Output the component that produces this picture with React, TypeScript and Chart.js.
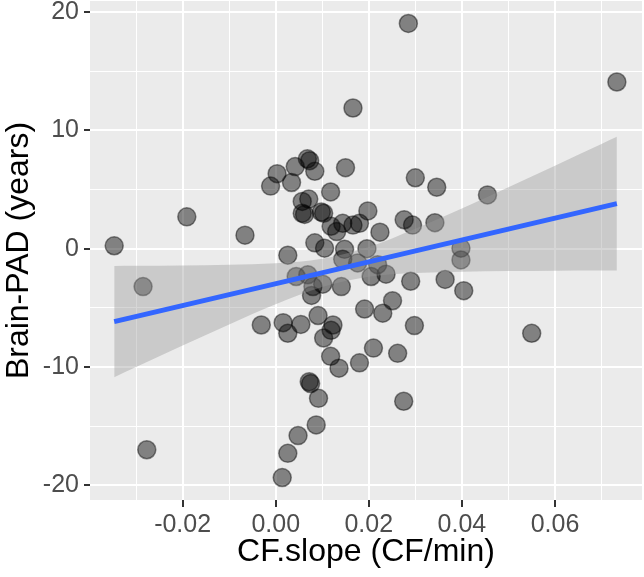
import { useEffect, useRef } from 'react';
import { Chart, registerables } from 'chart.js';

Chart.register(...registerables);

// CF.slope (CF/min) per subject
const slopeX = [
  -0.0347, -0.0285, -0.0277, -0.0191, -0.0066,
  -0.0011, 0.0003, 0.0034, 0.0042, 0.0068, 0.0073, 0.0084, 0.0150, 0.0166,
  0.0118, 0.0057, 0.0071, 0.0057, 0.0062, 0.0098, 0.0103, 0.0119, 0.0131,
  0.0144, 0.0166, 0.0180, 0.0198, 0.0224, 0.0276, 0.0294, 0.0342, 0.0300,
  0.0346, 0.0455, 0.0285, 0.0733,
  0.0084, 0.0105, 0.0148, 0.0196, 0.0026, 0.0144, 0.0176, 0.0219, 0.0398, 0.0398,
  0.0044, 0.0069, 0.0080, 0.0077, 0.0101, 0.0141, 0.0205, 0.0237, 0.0290,
  0.0364, 0.0404, 0.0251,
  -0.0031, 0.0016, 0.0026, 0.0054, 0.0091, 0.0123, 0.0119, 0.0103, 0.0118,
  0.0136, 0.0180, 0.0210, 0.0262, 0.0191, 0.0230, 0.0298, 0.0550,
  0.0072, 0.0075, 0.0092, 0.0087, 0.0048, 0.0026, 0.0014, 0.0275,
];

// Brain-PAD (years) per subject
const brainPad = [
  0.25, -3.2, -17.0, 2.7, 1.15,
  5.3, 6.35, 5.6, 6.95, 7.6, 7.45, 6.55, 6.85, 11.9,
  4.8, 4.0, 4.2, 3.0, 2.9, 3.1, 3.0, 1.9, 1.45,
  2.15, 2.0, 2.15, 3.2, 1.4, 2.45, 2.0, 2.2, 6.0,
  5.2, 4.55, 19.05, 14.1,
  0.5, 0.05, -0.05, 0.0, -0.55, -0.9, -1.2, -1.35, 0.05, -0.95,
  -2.35, -2.2, -3.2, -3.95, -3.0, -3.2, -2.35, -2.15, -2.75,
  -2.6, -3.55, -4.4,
  -6.45, -6.25, -7.15, -6.4, -5.65, -6.45, -6.9, -7.55, -9.1,
  -10.1, -9.65, -8.4, -8.85, -5.1, -5.45, -6.5, -7.15,
  -11.25, -11.4, -12.65, -14.9, -15.8, -17.3, -19.35, -12.9,
];

// linear fit (as drawn)
const fitX = [-0.0347, 0.0733];
const fitY = [-6.16, 3.81];

// 95% confidence band (as drawn)
const bandX = [-0.0347, -0.03, -0.02, -0.01, 0.0, 0.01, 0.02, 0.03, 0.04, 0.05, 0.06, 0.07, 0.0733];
const bandHigh = [-1.46, -1.45, -1.42, -1.36, -1.23, -0.85, 0.14, 1.68, 3.4, 5.19, 7.02, 8.85, 9.46];
const bandLow = [-10.86, -10.01, -8.18, -6.4, -4.69, -3.23, -2.36, -2.06, -1.94, -1.89, -1.86, -1.85, -1.84];

// axis breaks
const xMajor = [-0.02, 0.0, 0.02, 0.04, 0.06];
const xMinor = [-0.03, -0.01, 0.01, 0.03, 0.05, 0.07];
const yMajor = [-20, -10, 0, 10, 20];
const yMinor = [-15, -5, 5, 15];

const X_MIN = -0.0399;
const X_MAX = 0.0787;
const Y_MIN = -21.25;
const Y_MAX = 20.95;

const FONT = "'Liberation Sans', Arial, Helvetica, sans-serif";

const isIn = (arr: number[], v: number) => arr.some((a) => Math.abs(a - v) < 1e-9);

const panelBg = {
  id: 'panelBg',
  beforeDraw(chart: any) {
    const { ctx, chartArea } = chart;
    ctx.save();
    ctx.fillStyle = '#EBEBEB';
    ctx.fillRect(chartArea.left, chartArea.top, chartArea.right - chartArea.left, chartArea.bottom - chartArea.top);
    ctx.restore();
  },
};

export default function App() {
  const ref = useRef<HTMLCanvasElement | null>(null);

  useEffect(() => {
    if (!ref.current) return;
    const points = slopeX.map((x, i) => ({ x, y: brainPad[i] }));
    const chart = new Chart(ref.current, {
      type: 'scatter',
      data: {
        datasets: [
          {
            type: 'scatter',
            data: points,
            pointRadius: 9,
            pointHoverRadius: 9,
            backgroundColor: 'rgba(0,0,0,0.45)',
            borderColor: 'rgba(0,0,0,0.45)',
            borderWidth: 1.5,
            order: 3,
          } as any,
          {
            type: 'line',
            data: bandX.map((x, i) => ({ x, y: bandLow[i] })),
            showLine: true,
            borderWidth: 0,
            borderColor: 'rgba(0,0,0,0)',
            pointRadius: 0,
            fill: false,
            cubicInterpolationMode: 'monotone',
            order: 2,
          } as any,
          {
            type: 'line',
            data: bandX.map((x, i) => ({ x, y: bandHigh[i] })),
            showLine: true,
            borderWidth: 0,
            borderColor: 'rgba(0,0,0,0)',
            backgroundColor: 'rgba(153,153,153,0.4)',
            pointRadius: 0,
            fill: '-1',
            cubicInterpolationMode: 'monotone',
            order: 1,
          } as any,
          {
            type: 'line',
            data: fitX.map((x, i) => ({ x, y: fitY[i] })),
            showLine: true,
            borderColor: '#3366FF',
            borderWidth: 5,
            pointRadius: 0,
            fill: false,
            order: 0,
          } as any,
        ],
      },
      options: {
        animation: false,
        responsive: false,
        devicePixelRatio: 1,
        layout: { autoPadding: false, padding: { top: 1, right: 2, left: 0, bottom: 0 } },
        plugins: {
          legend: { display: false },
          tooltip: { enabled: false },
        },
        scales: {
          x: {
            type: 'linear',
            position: 'bottom',
            min: X_MIN,
            max: X_MAX,
            afterBuildTicks: (s: any) => {
              s.ticks = [...xMinor, ...xMajor].sort((a, b) => a - b).map((v) => ({ value: v }));
            },
            afterFit: (s: any) => {
              s.height = 77;
              s.paddingLeft = 0;
              s.paddingRight = 0;
            },
            ticks: {
              autoSkip: false,
              maxRotation: 0,
              color: '#4D4D4D',
              padding: 3,
              font: { family: FONT, size: 25 },
              callback: (v: any) => (isIn(xMajor, Number(v)) ? Number(v).toFixed(2) : ''),
            },
            grid: {
              color: '#FFFFFF',
              lineWidth: (c: any) => (isIn(xMajor, c.tick?.value) ? 2 : 1),
              tickLength: 7,
              tickWidth: 2,
              tickColor: (c: any) => (isIn(xMajor, c.tick?.value) ? '#333333' : 'rgba(0,0,0,0)'),
            },
            border: { display: false },
            title: {
              display: true,
              text: 'CF.slope (CF/min)',
              color: '#000000',
              font: { family: FONT, size: 32 },
              padding: { top: 0, bottom: 6 },
            },
          },
          y: {
            type: 'linear',
            min: Y_MIN,
            max: Y_MAX,
            afterBuildTicks: (s: any) => {
              s.ticks = [...yMinor, ...yMajor].sort((a, b) => a - b).map((v) => ({ value: v }));
            },
            afterFit: (s: any) => {
              s.width = 90;
              s.paddingTop = 0;
              s.paddingBottom = 0;
            },
            ticks: {
              autoSkip: false,
              color: '#4D4D4D',
              padding: 5,
              font: { family: FONT, size: 25 },
              callback: (v: any) => (isIn(yMajor, Number(v)) ? String(v) : ''),
            },
            grid: {
              color: '#FFFFFF',
              lineWidth: (c: any) => (isIn(yMajor, c.tick?.value) ? 2 : 1),
              tickLength: 6,
              tickWidth: 2,
              tickColor: (c: any) => (isIn(yMajor, c.tick?.value) ? '#333333' : 'rgba(0,0,0,0)'),
            },
            border: { display: false },
            title: {
              display: true,
              text: 'Brain-PAD (years)',
              color: '#000000',
              font: { family: FONT, size: 32 },
              padding: { top: 0, bottom: 0 },
            },
          },
        },
      },
      plugins: [panelBg],
    } as any);
    return () => chart.destroy();
  }, []);

  return (
    <div style={{ position: 'absolute', left: 0, top: 0, width: 644, height: 577, background: '#FFFFFF' }}>
      <canvas ref={ref} width={644} height={577} style={{ display: 'block', width: 644, height: 577 }} />
    </div>
  );
}
